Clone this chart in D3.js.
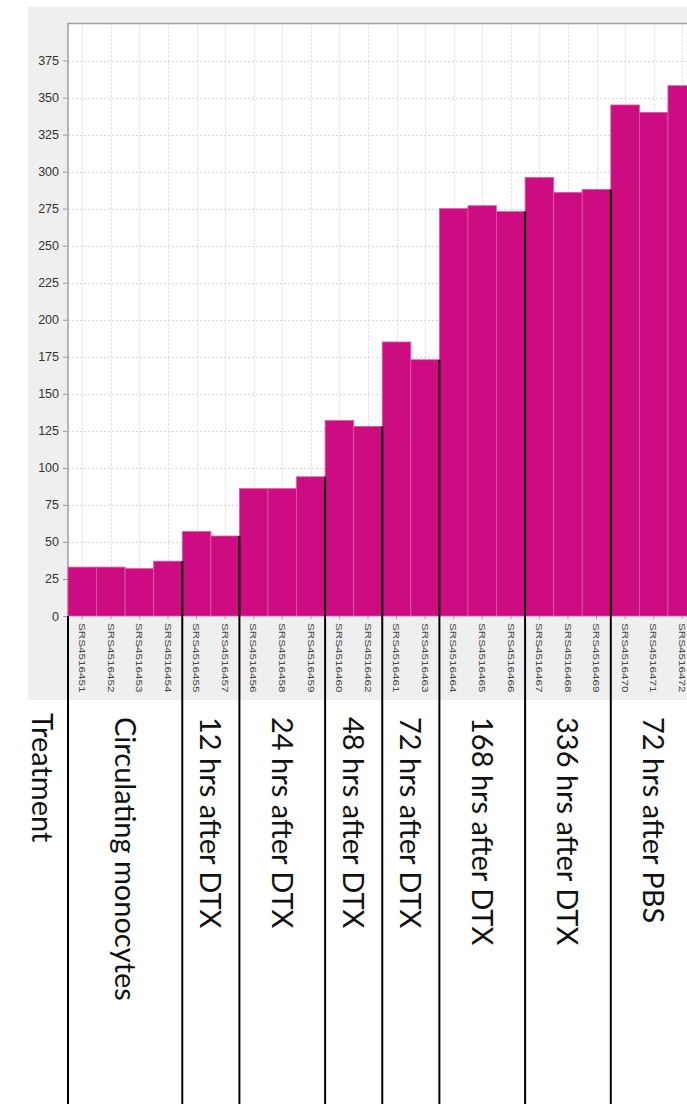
<!DOCTYPE html>
<html>
<head>
<meta charset="utf-8">
<script src="https://cdn.jsdelivr.net/npm/d3@7"></script>
<style>
  html, body { margin: 0; padding: 0; background: #fff; }
  svg { display: block; }
</style>
</head>
<body>
<svg id="chart" width="687" height="1104"></svg>
<script>
// Sample IDs in plotting order, with their values
const samples = [
  "SRS4516451", "SRS4516452", "SRS4516453", "SRS4516454",
  "SRS4516455", "SRS4516457",
  "SRS4516456", "SRS4516458", "SRS4516459",
  "SRS4516460", "SRS4516462",
  "SRS4516461", "SRS4516463",
  "SRS4516464", "SRS4516465", "SRS4516466",
  "SRS4516467", "SRS4516468", "SRS4516469",
  "SRS4516470", "SRS4516471", "SRS4516472"
];
const values = [
  33, 33, 32, 37,
  57, 54,
  86, 86, 94,
  132, 128,
  185, 173,
  275, 277, 273,
  296, 286, 288,
  345, 340, 358
];
// Treatment groups and how many consecutive samples each covers
const groups = [
  "Circulating monocytes", "12 hrs after DTX", "24 hrs after DTX",
  "48 hrs after DTX", "72 hrs after DTX", "168 hrs after DTX",
  "336 hrs after DTX", "72 hrs after PBS"
];
const groupSizes = [4, 2, 3, 2, 2, 3, 3, 3];
const yTicks = [0, 25, 50, 75, 100, 125, 150, 175, 200, 225, 250, 275, 300, 325, 350, 375];
const headerLabel = "Treatment";

const svg = d3.select("#chart");
const W = 687, H = 1104;

const plot = { left: 68, top: 23.5, bottom: 616, right: 696.5 };
const panel = { left: 28, top: 7, bottom: 700 };

const x = d3.scaleBand().domain(samples).range([plot.left, plot.right]).padding(0);
const y = d3.scaleLinear().domain([0, 400]).range([plot.bottom, plot.top]);

// Grey chart panel and white plotting area
svg.append("rect")
  .attr("x", panel.left).attr("y", panel.top)
  .attr("width", W - panel.left).attr("height", panel.bottom - panel.top)
  .attr("fill", "#efefef");
svg.append("rect")
  .attr("x", plot.left).attr("y", plot.top)
  .attr("width", plot.right - plot.left).attr("height", plot.bottom - plot.top)
  .attr("fill", "#ffffff");

// Dotted grid
const grid = svg.append("g").attr("stroke", "#d8d8d8").attr("stroke-dasharray", "2,2").attr("stroke-width", 1);
grid.selectAll("line.h").data(yTicks.filter(d => d > 0)).join("line")
  .attr("x1", plot.left).attr("x2", plot.right)
  .attr("y1", d => Math.round(y(d)) + 0.5).attr("y2", d => Math.round(y(d)) + 0.5);
grid.selectAll("line.v").data(samples).join("line")
  .attr("x1", d => Math.round(x(d) + x.bandwidth() / 2) + 0.5)
  .attr("x2", d => Math.round(x(d) + x.bandwidth() / 2) + 0.5)
  .attr("y1", plot.top).attr("y2", plot.bottom);

// Plot frame (top and left)
svg.append("path")
  .attr("d", `M${plot.left},${plot.bottom}V${plot.top}H${W}`)
  .attr("fill", "none").attr("stroke", "#a0a0a0").attr("stroke-width", 1.5);

// Bars
svg.append("g").selectAll("rect").data(samples).join("rect")
  .attr("x", d => x(d))
  .attr("y", (d, i) => y(values[i]))
  .attr("width", x.bandwidth())
  .attr("height", (d, i) => y(0) - y(values[i]))
  .attr("fill", "#cc0c80")
  .attr("stroke", "#dc5aa6")
  .attr("stroke-width", 0.8);

// Y axis
const yAxis = d3.axisLeft(y).tickValues(yTicks).tickSize(4).tickPadding(4);
const gy = svg.append("g").attr("transform", `translate(${plot.left - 1},0)`).call(yAxis);
gy.select(".domain").remove();
gy.selectAll(".tick line").attr("stroke", "#999");
gy.selectAll(".tick text")
  .attr("font-family", "Liberation Sans, Arial, sans-serif")
  .attr("font-size", 12.5).attr("fill", "#333");

// X axis with vertical sample labels
const xAxis = d3.axisBottom(x).tickSize(3).tickSizeOuter(0).tickFormat(() => "");
const gx = svg.append("g").attr("transform", `translate(0,${plot.bottom})`).call(xAxis);
gx.select(".domain").remove();
gx.selectAll(".tick line").attr("stroke", "#999");
svg.append("g").selectAll("text").data(samples).join("text")
  .attr("transform", d => `translate(${x(d) + x.bandwidth() / 2},623) rotate(90) scale(1.3,1)`)
  .attr("dy", "0.36em")
  .attr("font-family", "Liberation Sans, Arial, sans-serif")
  .attr("font-size", 9).attr("fill", "#444")
  .text(d => d);

// Group boundaries and treatment labels
let start = 0;
const bounds = groupSizes.map(n => { const b = { s: start, e: start + n - 1 }; start += n; return b; });

const sep = svg.append("g").attr("stroke", "#000").attr("stroke-width", 2);
bounds.forEach((b, gi) => {
  const xs = x(samples[b.s]);
  const yTop = gi === 0 ? y(0) : y(values[b.s - 1]);
  sep.append("line").attr("x1", xs).attr("x2", xs).attr("y1", yTop).attr("y2", H);
});

const labelFont = "Lato, 'Open Sans', sans-serif";
svg.append("text")
  .attr("transform", `translate(42,713) rotate(90)`)
  .attr("dy", "0.36em")
  .attr("font-family", labelFont).attr("font-size", 29).attr("fill", "#111")
  .text(headerLabel);

svg.append("g").selectAll("text").data(groups).join("text")
  .attr("transform", (d, i) => {
    const b = bounds[i];
    const cx = (x(samples[b.s]) + x(samples[b.e]) + x.bandwidth()) / 2;
    return `translate(${cx},717) rotate(90)`;
  })
  .attr("dy", "0.36em")
  .attr("font-family", labelFont).attr("font-size", 29).attr("fill", "#111")
  .text(d => d);
</script>
</body>
</html>
